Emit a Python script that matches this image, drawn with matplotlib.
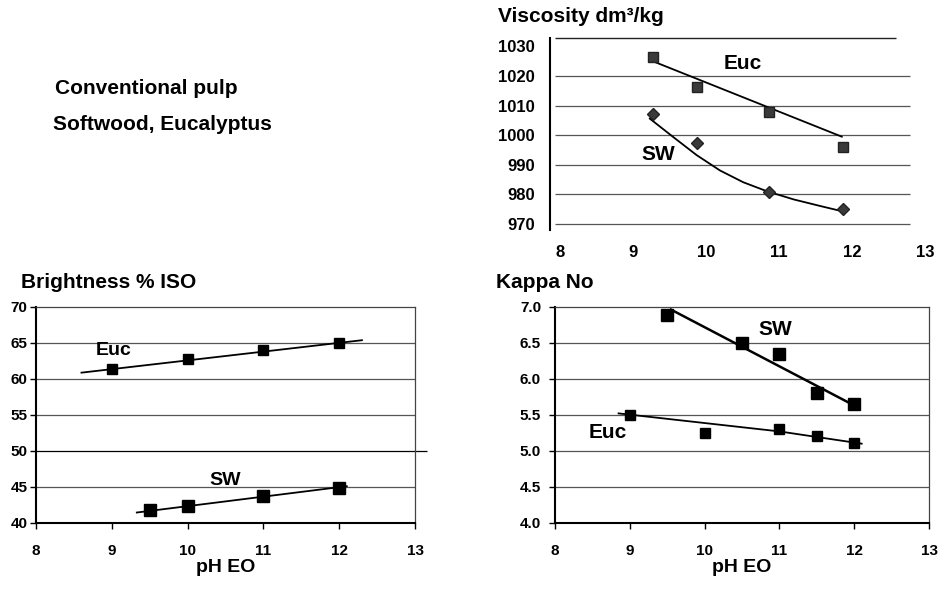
import matplotlib
matplotlib.use('Agg')
import matplotlib.pyplot as plt

plt.rcParams['font.family'] = ['Liberation Sans', 'DejaVu Sans']
plt.rcParams['font.weight'] = 'bold'
plt.rcParams['axes.labelweight'] = 'bold'

# Viskositet
visc_ph = [9.28, 9.88, 10.86, 11.88]
visc_euc = [1026.5, 1016.4, 1008.0, 996.0]
visc_sw = [1007.2, 997.4, 980.8, 975.0]
visc_euc_trend_x = [9.23, 11.86]
visc_euc_trend_y = [1025.4, 999.5]
visc_sw_trend_x = [9.23, 9.55, 9.87, 10.19, 10.51, 10.83, 11.2, 11.56, 11.88]
visc_sw_trend_y = [1005.6, 999.4, 993.3, 988.1, 984.1, 981.1, 978.3, 976.1, 974.2]

# Ljushet
bright_euc_ph = [9, 10, 11, 12]
bright_euc = [61.4, 62.8, 64.0, 65.0]
bright_sw_ph = [9.5, 10, 11, 12]
bright_sw = [41.8, 42.4, 43.8, 44.9]
bright_euc_trend_x = [8.6, 12.3]
bright_euc_trend_y = [60.85, 65.35]
bright_sw_trend_x = [9.33, 12.1]
bright_sw_trend_y = [41.45, 45.1]

# Kappa
kappa_sw_ph = [9.5, 10.5, 11, 11.5, 12]
kappa_sw = [6.88, 6.49, 6.35, 5.80, 5.65]
kappa_euc_ph = [9, 10, 11, 11.5, 12]
kappa_euc = [5.50, 5.25, 5.30, 5.20, 5.11]
kappa_sw_trend_x = [9.55, 12.0]
kappa_sw_trend_y = [6.96, 5.63]
kappa_euc_trend_x = [8.85, 11.0, 12.1]
kappa_euc_trend_y = [5.52, 5.27, 5.10]

xticks = [8, 9, 10, 11, 12, 13]
grid_col = '#555555'

fig = plt.figure(figsize=(9.41, 5.89), dpi=100)

# --- Viscosity (oben rechts) ---
ax1 = fig.add_axes([0.5951, 0.6097, 0.3879, 0.3256])
ax1.set_xlim(8, 13)
ax1.set_ylim(968, 1032.8)
for v in [970, 980, 990, 1000, 1010, 1020]:
    ax1.hlines(v, 7.93, 12.8, color=grid_col, lw=0.9, clip_on=False, zorder=1)
ax1.hlines(1032.8, 7.93, 12.6, color='#222222', lw=1.0, clip_on=False, zorder=1)
ax1.plot(visc_euc_trend_x, visc_euc_trend_y, color='black', lw=1.3, zorder=2)
ax1.plot(visc_sw_trend_x, visc_sw_trend_y, color='black', lw=1.3, zorder=2)
ax1.plot(visc_ph, visc_euc, 's', color='#3a3a3a', ms=7.5, mec='#222222', zorder=3)
ax1.plot(visc_ph, visc_sw, 'D', color='#3a3a3a', ms=6.5, mec='#222222', zorder=3)
ax1.text(10.51, 1024.1, 'Euc', fontsize=15, ha='center', va='center')
ax1.text(9.34, 993.6, 'SW', fontsize=15, ha='center', va='center')
for s in ['top', 'right', 'bottom']:
    ax1.spines[s].set_visible(False)
ax1.spines['left'].set_position(('outward', 7))
ax1.spines['left'].set_linewidth(1.5)
ax1.set_xticks(xticks)
ax1.set_yticks([970, 980, 990, 1000, 1010, 1020, 1030])
ax1.tick_params(axis='both', length=0, labelsize=12)
ax1.tick_params(axis='y', pad=11)
ax1.tick_params(axis='x', pad=11)
fig.text(498 / 941, 1 - 17 / 589, 'Viscosity dm³/kg', fontsize=15, ha='left', va='center')

# --- Brightness (unten links) ---
ax2 = fig.add_axes([36 / 941, 0.1121, 379 / 941, 0.3672])
ax2.set_xlim(8, 13)
ax2.set_ylim(40, 70)
for v in [45, 55, 60, 65]:
    ax2.axhline(v, color=grid_col, lw=0.9, zorder=1)
ax2.hlines(50, 8, 13.16, color='black', lw=0.9, clip_on=False, zorder=1)
ax2.plot(bright_euc_trend_x, bright_euc_trend_y, color='black', lw=1.3, zorder=2)
ax2.plot(bright_sw_trend_x, bright_sw_trend_y, color='black', lw=1.3, zorder=2)
ax2.plot(bright_euc_ph, bright_euc, 's', color='black', ms=7, zorder=3)
ax2.plot(bright_sw_ph, bright_sw, 's', color='black', ms=8, zorder=3)
ax2.text(9.03, 63.9, 'Euc', fontsize=14, ha='center', va='center')
ax2.text(10.5, 45.9, 'SW', fontsize=14, ha='center', va='center')
ax2.set_xticks(xticks)
ax2.set_yticks([40, 45, 50, 55, 60, 65, 70])
ax2.tick_params(axis='both', direction='out', length=4, width=1, labelsize=11)
ax2.tick_params(axis='x', pad=11)
ax2.tick_params(axis='y', pad=2)
for s in ['top', 'right']:
    ax2.spines[s].set_color('#444444')
    ax2.spines[s].set_linewidth(0.9)
ax2.spines['left'].set_linewidth(1.5)
ax2.spines['bottom'].set_linewidth(1.5)
ax2.set_xlabel('pH EO', fontsize=14, fontweight='bold', labelpad=1)
fig.text(21 / 941, 1 - 282 / 589, 'Brightness % ISO', fontsize=15, ha='left', va='center')

# --- Kappa (unten rechts) ---
ax3 = fig.add_axes([555 / 941, 0.1121, 374 / 941, 0.3672])
ax3.set_xlim(8, 13)
ax3.set_ylim(4.0, 7.0)
for v in [4.5, 5.0, 5.5, 6.0, 6.5]:
    ax3.axhline(v, color=grid_col, lw=0.9, zorder=1)
ax3.plot(kappa_sw_trend_x, kappa_sw_trend_y, color='black', lw=1.8, zorder=2)
ax3.plot(kappa_euc_trend_x, kappa_euc_trend_y, color='black', lw=1.3, zorder=2)
ax3.plot(kappa_sw_ph, kappa_sw, 's', color='black', ms=8, zorder=3)
ax3.plot(kappa_euc_ph, kappa_euc, 's', color='black', ms=7, zorder=3)
ax3.text(10.94, 6.69, 'SW', fontsize=15, ha='center', va='center')
ax3.text(8.70, 5.25, 'Euc', fontsize=15, ha='center', va='center')
ax3.set_xticks(xticks)
ax3.set_yticks([4.0, 4.5, 5.0, 5.5, 6.0, 6.5, 7.0])
ax3.set_yticklabels(['4.0', '4.5', '5.0', '5.5', '6.0', '6.5', '7.0'])
ax3.tick_params(axis='both', direction='out', length=4, width=1, labelsize=11)
ax3.tick_params(axis='x', pad=11)
ax3.tick_params(axis='y', pad=6)
for s in ['top', 'right']:
    ax3.spines[s].set_color('#444444')
    ax3.spines[s].set_linewidth(0.9)
ax3.spines['left'].set_linewidth(1.5)
ax3.spines['bottom'].set_linewidth(1.5)
ax3.set_xlabel('pH EO', fontsize=14, fontweight='bold', labelpad=1)
fig.text(496 / 941, 1 - 283 / 589, 'Kappa No', fontsize=15, ha='left', va='center')

# Text oben links
fig.text(55 / 941, 1 - 89 / 589, 'Conventional pulp', fontsize=15, ha='left', va='center')
fig.text(53 / 941, 1 - 125 / 589, 'Softwood, Eucalyptus', fontsize=15, ha='left', va='center')

fig.savefig('out.png', dpi=100)
